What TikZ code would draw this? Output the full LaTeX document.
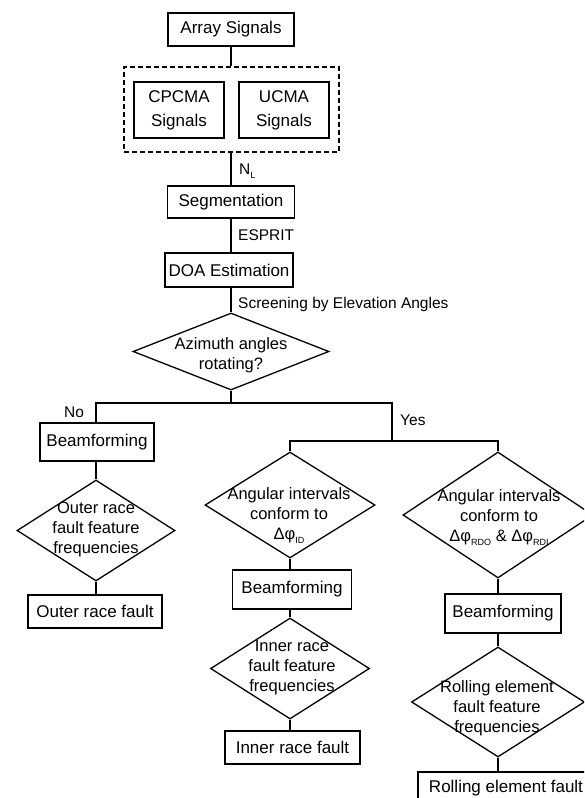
\documentclass[tikz,border=0pt]{standalone}
\usepackage{fontspec}
\setmainfont{Liberation Sans}
\usetikzlibrary{shapes.geometric}
\newcommand{\sbs}[1]{\raisebox{-4pt}{\fontsize{9}{9}\selectfont #1}}
\begin{document}
\begin{tikzpicture}[x=1pt,y=-1pt,
 box/.style={draw, line width=1.5pt, inner sep=0pt, font=\fontsize{17}{24}\selectfont, align=center},
 dia/.style={draw, diamond, line width=1.3pt, inner sep=0pt},
 dtext/.style={align=center, font=\fontsize{16.5}{20}\selectfont, inner sep=0pt},
 lab/.style={anchor=west, inner sep=0pt, font=\fontsize{15.5}{18}\selectfont},
 conn/.style={line width=2.8pt}]
\useasboundingbox (0,0) rectangle (584,798);
\clip (0,0) rectangle (584,798);
% top column
\node[box, minimum width=126pt, minimum height=33pt] (arr) at (231,29.5) {Array Signals};
\node[draw, line width=1.5pt, dash pattern=on 5pt off 3pt, minimum width=215pt, minimum height=85pt, inner sep=0pt] (grp) at (231.5,109.5) {};
\node[box, minimum width=90pt, minimum height=56pt] (cp) at (179,110) {CPCMA\\Signals};
\node[box, minimum width=90pt, minimum height=56pt] (uc) at (284,110) {UCMA\\Signals};
\node[box, minimum width=127pt, minimum height=32pt] (seg) at (231,202) {Segmentation};
\node[box, minimum width=128pt, minimum height=34pt] (doa) at (229,270) {DOA Estimation};
\node[dia, minimum width=196pt, minimum height=77pt] (az) at (231,351.5) {};
\node[dtext] (azt) at (231,355) {Azimuth angles\\rotating?};
\draw[conn] (arr.south) -- (arr.south |- grp.north);
\draw[conn] (seg.north |- grp.south) -- (seg.north);
\draw[conn] (seg.south) -- (seg.south |- doa.north);
\draw[conn] (az.north |- doa.south) -- (az.north);
\node[lab] (nl) at (239,171) {N\sbs{L}};
\node[lab] (esp) at (238,235) {ESPRIT};
\node[lab] (scr) at (238,304) {Screening by Elevation Angles};
% branches
\coordinate (b1) at (231,403);
\coordinate (bL) at (96,403);
\coordinate (bR) at (392,403);
\coordinate (b2) at (392,441);
\coordinate (b2L) at (290,441);
\coordinate (b2R) at (498,441);
\node[lab, anchor=center] (no) at (74,412) {No};
\node[lab] (yes) at (400,420) {Yes};
% left column
\node[box, minimum width=114pt, minimum height=38pt] (beamL) at (97,442) {Beamforming};
\node[dia, minimum width=158pt, minimum height=101pt] (od) at (96,530.5) {};
\node[dtext] (odt) at (96,529) {Outer race\\fault feature\\frequencies};
\node[box, minimum width=134pt, minimum height=33pt] (of) at (95,611.5) {Outer race fault};
% middle column
\node[dia, minimum width=170pt, minimum height=106pt] (idd) at (290,505) {};
\node[dtext] (iddt) at (289,516) {Angular intervals\\conform to\\Δφ\sbs{ID}};
\node[box, minimum width=119pt, minimum height=39pt] (beamM) at (292,589.5) {Beamforming};
\node[dia, minimum width=159pt, minimum height=101pt] (ind) at (290,668.5) {};
\node[dtext] (indt) at (292,668) {Inner race\\fault feature\\frequencies};
\node[box, minimum width=135pt, minimum height=33pt] (inf) at (292.5,747.5) {Inner race fault};
% right column
\node[dia, minimum width=190pt, minimum height=126pt] (rdd) at (498,515) {};
\node[dtext] (rddt) at (499,518) {Angular intervals\\conform to\\Δφ\sbs{RDO} \& Δφ\sbs{RDI}};
\node[box, minimum width=116pt, minimum height=39pt] (beamR) at (503,613.5) {Beamforming};
\node[dia, minimum width=173pt, minimum height=110pt] (rod) at (498,702) {};
\node[dtext] (rodt) at (497,708) {Rolling element\\fault feature\\frequencies};
\node[box, minimum width=176pt, minimum height=32pt] (rof) at (506,788) {Rolling element fault};
% connectors
\draw[conn] (az.south) -- (b1);
\draw[conn] (beamL.north -| od.north) -- (bL) -- (bR) -- (b2);
\draw[conn] (idd.north) -- (b2L) -- (b2R) -- (rdd.north);
\draw[conn] (od.north |- beamL.south) -- (od.north);
\draw[conn] (od.south) -- (od.south |- of.north);
\draw[conn] (idd.south) -- (idd.south |- beamM.north);
\draw[conn] (ind.north |- beamM.south) -- (ind.north);
\draw[conn] (ind.south) -- (ind.south |- inf.north);
\draw[conn] (rdd.south) -- (rdd.south |- beamR.north);
\draw[conn] (rod.north |- beamR.south) -- (rod.north);
\draw[conn] (rod.south) -- (rod.south |- rof.north);
\end{tikzpicture}
\end{document}
